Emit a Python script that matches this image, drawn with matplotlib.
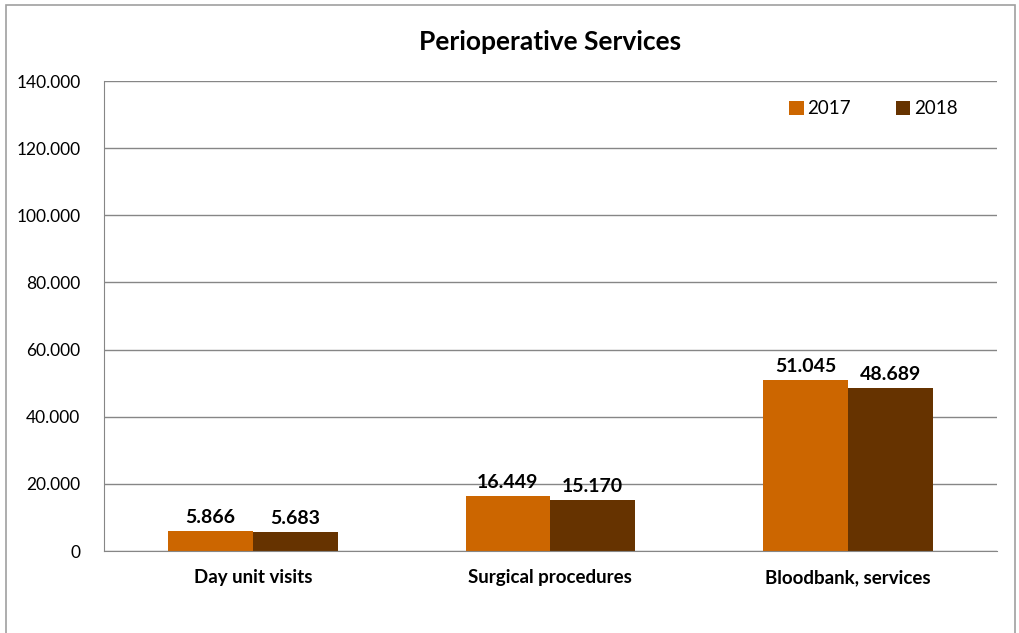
import numpy as np
import matplotlib.pyplot as plt
from matplotlib.patches import Rectangle
from matplotlib.ticker import FuncFormatter

plt.rcParams['font.family'] = ['Lato', 'DejaVu Sans']

categories = ['Day unit visits', 'Surgical procedures', 'Bloodbank, services']
years = ['2017', '2018']
vals_2017 = [5866, 16449, 51045]
vals_2018 = [5683, 15170, 48689]
colors = ['#CC6600', '#663300']


def thousands(v, pos=None):
    return f'{int(v):,}'.replace(',', '.')


fig = plt.figure(figsize=(10.2, 6.33), dpi=100)
ax = fig.add_axes([0.102, 0.1295, 0.875, 0.7425])

# outer chart frame
fig.patches.append(Rectangle((0.006, -0.01), 0.989, 1.002, transform=fig.transFigure,
                             fill=False, ec='#A0A0A0', lw=1.2))

x = np.arange(len(categories))
w = 0.285
b1 = ax.bar(x - w / 2, vals_2017, w, color=colors[0], label=years[0])
b2 = ax.bar(x + w / 2, vals_2018, w, color=colors[1], label=years[1])

for bars in (b1, b2):
    for r in bars:
        ax.text(r.get_x() + r.get_width() / 2, r.get_height() + 1500,
                thousands(r.get_height()), ha='center', va='bottom',
                fontsize=14, fontweight='bold')

ax.set_xlim(-0.5, 2.5)
ax.set_ylim(0, 140000)
ax.set_yticks(np.arange(0, 140001, 20000))
ax.yaxis.set_major_formatter(FuncFormatter(thousands))
ax.set_xticks(x)
ax.set_xticklabels(categories, fontsize=13.5, fontweight='bold')
ax.tick_params(axis='y', labelsize=12.5, length=0, pad=17)
ax.tick_params(axis='x', length=0, pad=13)

ax.grid(axis='y', color='#868686', lw=1)
ax.set_axisbelow(True)
for s in ['top', 'right']:
    ax.spines[s].set_visible(False)
for s in ['left', 'bottom']:
    ax.spines[s].set_color('#868686')

ax.set_title('Perioperative Services', fontsize=19, fontweight='bold', pad=22)

ax.legend(loc='upper right', bbox_to_anchor=(0.975, 0.995), ncol=2, frameon=False,
          fontsize=13.5, handlelength=0.75, handleheight=0.75, columnspacing=2.4,
          handletextpad=0.2)

plt.savefig('out.png', dpi=100)
